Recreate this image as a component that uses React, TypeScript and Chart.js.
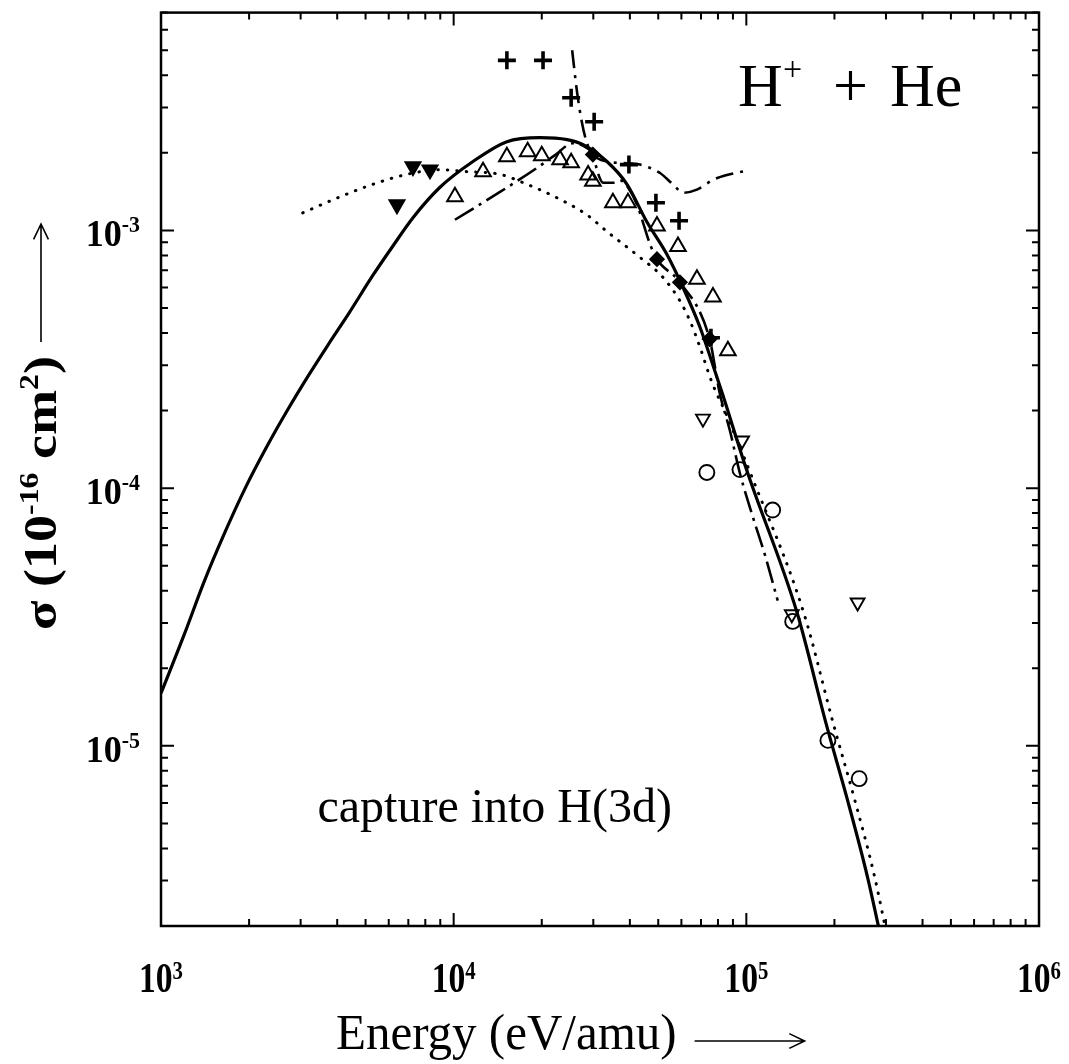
import { useEffect, useRef } from "react";
import { Chart, registerables } from "chart.js";

Chart.register(...registerables);

// ---------- data (energy in eV/amu, cross section in 1e-16 cm^2) ----------
const xTickValues = [1e3, 1e4, 1e5, 1e6];
const xTickExponents = ["3", "4", "5", "6"];
const yTickValues = [1e-3, 1e-4, 1e-5];
const yTickExponents = ["-3", "-4", "-5"];

// thick solid theory curve
const solidE = [1000, 1200, 1400, 1650, 1940, 2300, 2700, 3200, 3724, 4400, 5300, 6200, 7260, 8980, 11640, 15200, 19700, 24400, 27700, 33400, 39100, 45700, 53500, 60700, 69400, 76900, 82600, 100400, 149000, 188000, 221000, 258000, 295000];
const solidS = [1.6e-5, 2.7e-5, 4.3e-5, 6.7e-5, 1.0e-4, 1.45e-4, 2.0e-4, 2.75e-4, 3.6e-4, 4.8e-4, 6.7e-4, 8.7e-4, 1.12e-3, 1.47e-3, 1.85e-3, 2.21e-3, 2.29e-3, 2.25e-3, 2.15e-3, 1.85e-3, 1.51e-3, 1.08e-3, 8.08e-4, 6.02e-4, 4.22e-4, 3.0e-4, 2.35e-4, 1.17e-4, 3.29e-5, 1.2e-5, 6.24e-6, 3.18e-6, 1.6e-6];

// dotted theory curve
const dottedE = [3050, 4090, 5300, 6920, 8970, 11100, 14400, 17800, 22500, 28500, 33400, 43300, 51800, 59300, 64200, 69400, 76000, 86000, 104000, 157000, 199000, 234000, 273000, 310000];
const dottedS = [1.17e-3, 1.35e-3, 1.51e-3, 1.65e-3, 1.72e-3, 1.69e-3, 1.65e-3, 1.51e-3, 1.34e-3, 1.15e-3, 9.9e-4, 7.86e-4, 6.59e-4, 5.33e-4, 4.45e-4, 3.53e-4, 2.6e-4, 1.9e-4, 1.12e-4, 3.29e-5, 1.2e-5, 6.24e-6, 3.18e-6, 1.6e-6];

// long-dash theory curve
const longDashE = [10100, 14400, 19300, 22200, 25600, 28500, 29900, 31100, 32400, 35000, 37300, 39400, 42300, 46900, 49500, 59300, 74900, 81000, 87900, 95100, 105000, 116000, 128000];
const longDashS = [1.1e-3, 1.41e-3, 1.75e-3, 1.96e-3, 2.18e-3, 2.09e-3, 1.97e-3, 1.67e-3, 1.53e-3, 1.53e-3, 1.56e-3, 1.47e-3, 1.26e-3, 8.83e-4, 7.73e-4, 6.29e-4, 3.79e-4, 2.35e-4, 1.67e-4, 1.14e-4, 7.8e-5, 5.46e-5, 3.66e-5];

// dash-dot theory curve
const dashDotE = [25400, 26400, 27400, 28500, 29900, 33500, 39700, 43300, 50700, 56100, 60800, 67800, 76900, 85900, 99000];
const dashDotS = [5.0e-3, 3.44e-3, 2.64e-3, 2.19e-3, 1.97e-3, 1.85e-3, 1.82e-3, 1.8e-3, 1.67e-3, 1.51e-3, 1.4e-3, 1.44e-3, 1.57e-3, 1.64e-3, 1.7e-3];

// experimental points
const plusE = [15200, 20200, 25200, 30200, 39700, 49100, 58900, 75700];
const plusS = [4.57e-3, 4.57e-3, 3.27e-3, 2.64e-3, 1.8e-3, 1.28e-3, 1.09e-3, 3.83e-4];

const triUpE = [10100, 12600, 15200, 17900, 20000, 23100, 25200, 28800, 29900, 35000, 39400, 49500, 58400, 67800, 76900, 86500];
const triUpS = [1.35e-3, 1.69e-3, 1.93e-3, 2.02e-3, 1.95e-3, 1.88e-3, 1.83e-3, 1.64e-3, 1.55e-3, 1.28e-3, 1.28e-3, 1.04e-3, 8.67e-4, 6.47e-4, 5.51e-4, 3.41e-4];

const triDownFilledE = [6400, 7260, 8300];
const triDownFilledS = [1.26e-3, 1.77e-3, 1.72e-3];

const triDownOpenE = [71100, 96700, 143000, 240000];
const triDownOpenS = [1.86e-4, 1.53e-4, 3.24e-5, 3.6e-5];

const circleE = [73300, 95100, 123000, 144000, 190000, 243000];
const circleS = [1.15e-4, 1.18e-4, 8.22e-5, 3.04e-5, 1.05e-5, 7.46e-6];

const diamondE = [29900, 49500, 59300, 74900];
const diamondS = [1.97e-3, 7.73e-4, 6.29e-4, 3.79e-4];

const X_MIN = 1e3;
const X_MAX = 1e6;
const Y_MIN = 2e-6;
const Y_MAX = 7e-3;

// ---------- helpers ----------
const pts = (xs: number[], ys: number[]) => xs.map((v, i) => ({ x: v, y: ys[i] }));

type Part = [string, string, number];

function measureRich(ctx: CanvasRenderingContext2D, parts: Part[], sx = 1) {
  return parts
    .map((p) => {
      ctx.font = p[1];
      return ctx.measureText(p[0]).width * sx;
    })
    .reduce((a, b) => a + b, 0);
}

function drawRich(ctx: CanvasRenderingContext2D, parts: Part[], x: number, y: number, align: "left" | "center" | "right", sx = 1) {
  const widths = parts.map((p) => {
    ctx.font = p[1];
    return ctx.measureText(p[0]).width * sx;
  });
  const total = widths.reduce((a, b) => a + b, 0);
  let cx = align === "center" ? x - total / 2 : align === "right" ? x - total : x;
  parts.forEach((p, i) => {
    ctx.save();
    ctx.font = p[1];
    ctx.textAlign = "left";
    ctx.textBaseline = "alphabetic";
    ctx.translate(cx, y + p[2]);
    ctx.scale(sx, 1);
    ctx.fillText(p[0], 0, 0);
    ctx.restore();
    cx += widths[i];
  });
  return total;
}

function drawArrow(ctx: CanvasRenderingContext2D, x1: number, y1: number, x2: number, y2: number) {
  const ang = Math.atan2(y2 - y1, x2 - x1);
  ctx.save();
  ctx.strokeStyle = "#000";
  ctx.lineWidth = 1.6;
  ctx.beginPath();
  ctx.moveTo(x1, y1);
  ctx.lineTo(x2, y2);
  ctx.moveTo(x2 - 17 * Math.cos(ang - 0.45), y2 - 17 * Math.sin(ang - 0.45));
  ctx.lineTo(x2, y2);
  ctx.lineTo(x2 - 17 * Math.cos(ang + 0.45), y2 - 17 * Math.sin(ang + 0.45));
  ctx.stroke();
  ctx.restore();
}

const SERIF = '"Liberation Serif", "Times New Roman", serif';

const decorPlugin = {
  id: "decor",
  afterDraw(chart: any) {
    const { ctx, chartArea } = chart;
    const { left, right, top, bottom } = chartArea;
    const xs = chart.scales.x;
    const ys = chart.scales.y;
    ctx.save();
    ctx.fillStyle = "#000";
    ctx.strokeStyle = "#000";

    // frame
    ctx.lineWidth = 2.5;
    ctx.strokeRect(left, top, right - left, bottom - top);

    // ticks
    ctx.lineWidth = 2;
    ctx.beginPath();
    for (let d = 3; d <= 6; d++) {
      for (let m = 1; m <= 9; m++) {
        const v = m * Math.pow(10, d);
        if (v < X_MIN || v > X_MAX) continue;
        const px = xs.getPixelForValue(v);
        const len = m === 1 ? 13 : 7;
        ctx.moveTo(px, bottom);
        ctx.lineTo(px, bottom - len);
        ctx.moveTo(px, top);
        ctx.lineTo(px, top + len);
      }
    }
    for (let d = -6; d <= -3; d++) {
      for (let m = 1; m <= 9; m++) {
        const v = m * Math.pow(10, d);
        if (v < Y_MIN || v > Y_MAX) continue;
        const py = ys.getPixelForValue(v);
        const len = m === 1 ? 13 : 7;
        ctx.moveTo(left, py);
        ctx.lineTo(left + len, py);
        ctx.moveTo(right, py);
        ctx.lineTo(right - len, py);
      }
    }
    ctx.stroke();

    // x tick labels
    xTickValues.forEach((v, i) => {
      const px = xs.getPixelForValue(v);
      drawRich(
        ctx,
        [
          ["10", `bold 42px ${SERIF}`, 0],
          [xTickExponents[i], `bold 26px ${SERIF}`, -13],
        ],
        px,
        bottom + 66,
        "center",
        0.8
      );
    });

    // y tick labels
    yTickValues.forEach((v, i) => {
      const py = ys.getPixelForValue(v);
      drawRich(
        ctx,
        [
          ["10", `bold 38px ${SERIF}`, 0],
          [yTickExponents[i], `bold 23px ${SERIF}`, -14],
        ],
        left - 21,
        py + 16,
        "right",
        0.95
      );
    });

    // x axis title
    const w = drawRich(ctx, [["Energy (eV/amu)", `50px ${SERIF}`, 0]], 336, 1049, "left", 0.98);
    drawArrow(ctx, 336 + w + 18, 1041, 336 + w + 128, 1041);

    // y axis title (rotated)
    const yParts: Part[] = [
      ["σ (10", `bold 46px ${SERIF}`, 0],
      ["-16", `bold 27px ${SERIF}`, -18],
      [" cm", `bold 46px ${SERIF}`, 0],
      ["2", `bold 27px ${SERIF}`, -18],
      [")", `bold 46px ${SERIF}`, 0],
    ];
    const natural = measureRich(ctx, yParts, 1);
    const ysx = 274 / natural;
    ctx.save();
    ctx.translate(56, 630);
    ctx.rotate(-Math.PI / 2);
    const tw = drawRich(ctx, yParts, 0, 0, "left", ysx);
    drawArrow(ctx, tw + 14, -15, tw + 132, -15);
    ctx.restore();

    // annotations
    ctx.font = `62px ${SERIF}`;
    ctx.textAlign = "left";
    ctx.textBaseline = "alphabetic";
    ctx.fillText("H", 738, 106);
    ctx.font = `34px ${SERIF}`;
    ctx.fillText("+", 783, 80);
    ctx.font = `62px ${SERIF}`;
    ctx.fillText("+", 833, 106);
    ctx.fillText("He", 890, 106);

    drawRich(ctx, [["capture into H(3d)", `48px ${SERIF}`, 0]], 672, 822, "right", 1);

    ctx.restore();
  },
};

const lineDs = (label: string, xs: number[], ys: number[], width: number, dash: number[], cap: CanvasLineCap = "butt") => ({
  label,
  data: pts(xs, ys),
  showLine: true,
  borderColor: "#000",
  backgroundColor: "#000",
  borderWidth: width,
  borderDash: dash,
  borderCapStyle: cap,
  pointRadius: 0,
  pointHoverRadius: 0,
  cubicInterpolationMode: "monotone",
  fill: false,
});

const markerDs = (label: string, xs: number[], ys: number[], style: string, radius: number, filled: boolean, rotation = 0, bw = 1.6) => ({
  label,
  data: pts(xs, ys),
  showLine: false,
  pointStyle: style,
  pointRadius: radius,
  pointHoverRadius: radius,
  pointRotation: rotation,
  pointBorderWidth: bw,
  pointBorderColor: "#000",
  pointBackgroundColor: filled ? "#000" : "rgba(0,0,0,0)",
  borderColor: "#000",
  backgroundColor: filled ? "#000" : "rgba(0,0,0,0)",
});

export default function App() {
  const ref = useRef<HTMLCanvasElement | null>(null);

  useEffect(() => {
    if (!ref.current) return;
    const chart = new Chart(ref.current, {
      type: "scatter",
      data: {
        datasets: [
          markerDs("plus", plusE, plusS, "cross", 9, true, 0, 3.6) as any,
          markerDs("diamond", diamondE, diamondS, "rectRot", 7, true) as any,
          markerDs("triUp", triUpE, triUpS, "triangle", 9, false, 0, 2) as any,
          markerDs("triDownFilled", triDownFilledE, triDownFilledS, "triangle", 9, true, 180) as any,
          markerDs("triDownOpen", triDownOpenE, triDownOpenS, "triangle", 8, false, 180, 1.9) as any,
          markerDs("circle", circleE, circleS, "circle", 7.5, false, 0, 1.9) as any,
          lineDs("solid", solidE, solidS, 3.2, []) as any,
          lineDs("dotted", dottedE, dottedS, 3, [0.5, 9], "round") as any,
          lineDs("longDash", longDashE, longDashS, 2.6, [22, 6, 3, 6]) as any,
          lineDs("dashDot", dashDotE, dashDotS, 2.6, [18, 7, 3, 7]) as any,
        ],
      },
      options: {
        responsive: false,
        animation: false,
        events: [],
        layout: { padding: { top: 7, right: 30, left: 0, bottom: 0 } },
        plugins: { legend: { display: false }, tooltip: { enabled: false } },
        scales: {
          x: {
            type: "logarithmic",
            min: X_MIN,
            max: X_MAX,
            ticks: { display: false },
            grid: { display: false },
            border: { display: false },
            afterFit: (s: any) => {
              s.height = 138;
            },
          },
          y: {
            type: "logarithmic",
            min: Y_MIN,
            max: Y_MAX,
            ticks: { display: false },
            grid: { display: false },
            border: { display: false },
            afterFit: (s: any) => {
              s.width = 161;
            },
          },
        },
      },
      plugins: [decorPlugin],
    });
    return () => chart.destroy();
  }, []);

  return (
    <div style={{ position: "absolute", left: 0, top: 0, width: 1069, height: 1064, background: "#fff" }}>
      <canvas ref={ref} width={1069} height={1064} style={{ display: "block" }} />
    </div>
  );
}
